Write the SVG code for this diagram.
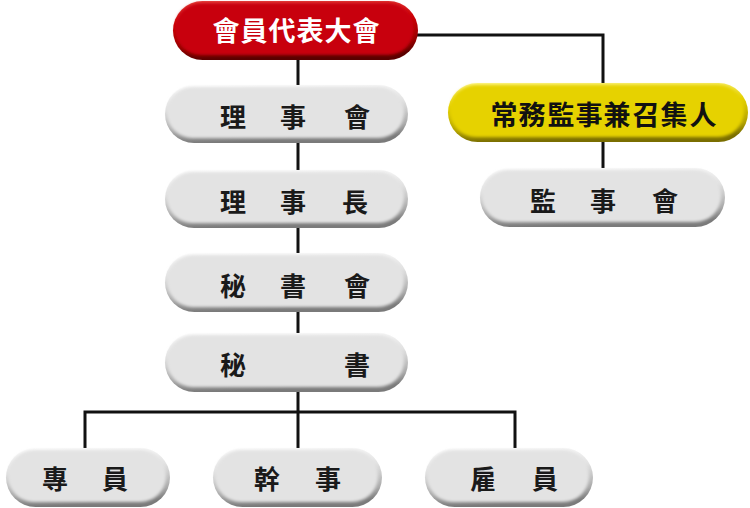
<svg xmlns="http://www.w3.org/2000/svg" width="750" height="508" viewBox="0 0 750 508">
<defs>
<linearGradient id="gGray" x1="0" y1="0" x2="0.15" y2="1">
<stop offset="0" stop-color="#ffffff"/>
<stop offset="0.4" stop-color="#e2e2e2"/>
<stop offset="0.8" stop-color="#a8a8a8"/>
<stop offset="1" stop-color="#7a7a7a"/>
</linearGradient>
<linearGradient id="gRed" x1="0" y1="0" x2="0.15" y2="1">
<stop offset="0" stop-color="#e84848"/>
<stop offset="0.4" stop-color="#cc0008"/>
<stop offset="0.8" stop-color="#900000"/>
<stop offset="1" stop-color="#5a0000"/>
</linearGradient>
<linearGradient id="gYel" x1="0" y1="0" x2="0.15" y2="1">
<stop offset="0" stop-color="#fff890"/>
<stop offset="0.4" stop-color="#e4d000"/>
<stop offset="0.8" stop-color="#b0a000"/>
<stop offset="1" stop-color="#7a6e00"/>
</linearGradient>
<filter id="soft" x="-10%" y="-20%" width="120%" height="140%">
<feGaussianBlur stdDeviation="1.6"/>
</filter>
<style>
.conn{fill:none;stroke:#111;stroke-width:3}
.face-g{fill:#e3e3e3;filter:url(#soft)}
.face-r{fill:#c80008;filter:url(#soft)}
.face-y{fill:#e6d200;filter:url(#soft)}
.t{font-family:"Noto Sans CJK TC","Noto Sans CJK SC",sans-serif;font-weight:bold;font-size:26px;fill:#1a1a1a;text-anchor:middle;dominant-baseline:central}
.tw{fill:#ffffff;font-size:27px}
.ty{fill:#111;font-size:27px}
</style>
</defs>
<g id="connectors">
<path class="conn" d="M298,58 V88"/>
<path class="conn" d="M298,141 V172"/>
<path class="conn" d="M298,226 V255"/>
<path class="conn" d="M298,310 V335"/>
<path class="conn" d="M298,390 V450"/>
<path class="conn" d="M416,35 H603 V85"/>
<path class="conn" d="M603,140 V170"/>
<path class="conn" d="M85,450 V412 H515 V450"/>
</g>
<g id="n-huiyuan">
<rect x="173" y="1" width="245" height="59" rx="29.5" fill="url(#gRed)"/>
<rect x="175" y="3" width="239" height="52" rx="26" class="face-r"/>
<text class="t tw" x="226 254 282 310 338 366" y="29">會員代表大會</text>
</g>
<g id="n-lishihui">
<rect x="165" y="85" width="243" height="58" rx="29" fill="url(#gGray)"/>
<rect x="167" y="87" width="237" height="51" rx="25.5" class="face-g"/>
<text class="t" x="233 293 357" y="115">理事會</text>
</g>
<g id="n-changwu">
<rect x="448" y="83" width="300" height="59" rx="29.5" fill="url(#gYel)"/>
<rect x="450" y="85" width="294" height="52" rx="26" class="face-y"/>
<text class="t ty" x="504 532 561 589 617 646 674 703" y="113">常務監事兼召集人</text>
</g>
<g id="n-jianshihui">
<rect x="480" y="168" width="245" height="59" rx="29.5" fill="url(#gGray)"/>
<rect x="482" y="170" width="239" height="52" rx="26" class="face-g"/>
<text class="t" x="543 603 665" y="199">監事會</text>
</g>
<g id="n-lishizhang">
<rect x="165" y="170" width="243" height="58" rx="29" fill="url(#gGray)"/>
<rect x="167" y="172" width="237" height="51" rx="25.5" class="face-g"/>
<text class="t" x="233 293 355" y="200">理事長</text>
</g>
<g id="n-mishuhui">
<rect x="165" y="253" width="243" height="59" rx="29.5" fill="url(#gGray)"/>
<rect x="167" y="255" width="237" height="52" rx="26" class="face-g"/>
<text class="t" x="233 293 357" y="284">秘書會</text>
</g>
<g id="n-mishu">
<rect x="165" y="333" width="243" height="59" rx="29.5" fill="url(#gGray)"/>
<rect x="167" y="335" width="237" height="52" rx="26" class="face-g"/>
<text class="t" x="233 357" y="363">秘書</text>
</g>
<g id="n-zhuanyuan">
<rect x="6" y="448" width="164" height="59" rx="29.5" fill="url(#gGray)"/>
<rect x="8" y="450" width="158" height="52" rx="26" class="face-g"/>
<text class="t" x="55 115" y="477">專員</text>
</g>
<g id="n-ganshi">
<rect x="213" y="448" width="169" height="59" rx="29.5" fill="url(#gGray)"/>
<rect x="215" y="450" width="163" height="52" rx="26" class="face-g"/>
<text class="t" x="267 328" y="477">幹事</text>
</g>
<g id="n-guyuan">
<rect x="425" y="448" width="168" height="59" rx="29.5" fill="url(#gGray)"/>
<rect x="427" y="450" width="162" height="52" rx="26" class="face-g"/>
<text class="t" x="483 545" y="477">雇員</text>
</g>
</svg>
